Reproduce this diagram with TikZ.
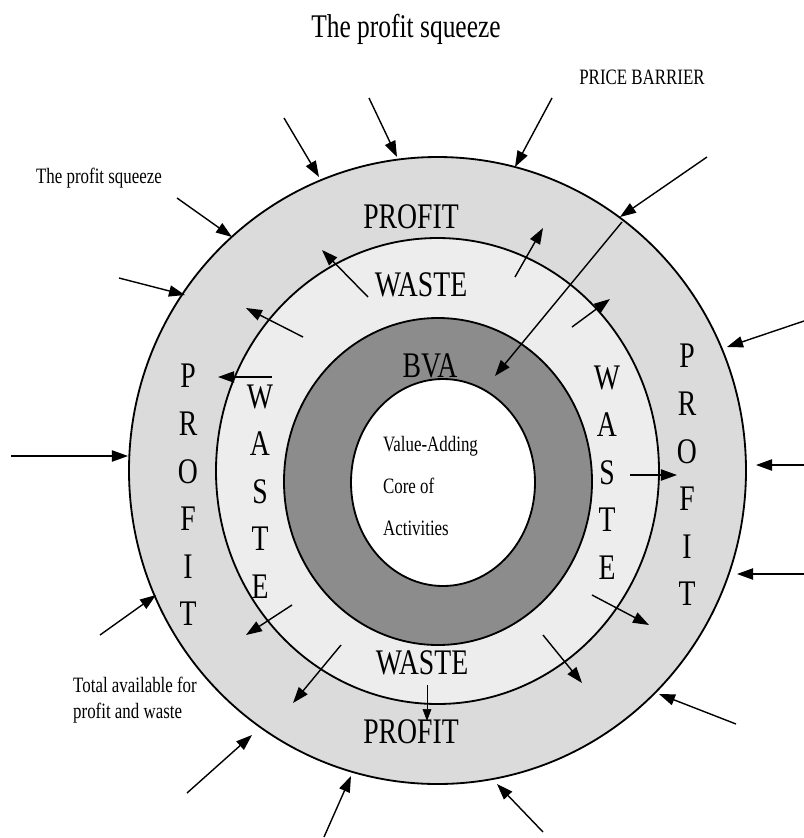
\documentclass[tikz,border=0pt]{standalone}
\usepackage{fontspec}
\setmainfont[FakeStretch=0.77]{Liberation Serif}
\usetikzlibrary{arrows.meta}

\definecolor{profitgray}{gray}{0.86}
\definecolor{wastegray}{gray}{0.93}
\definecolor{bvagray}{gray}{0.55}

\newcommand{\ringsize}{\fontsize{25.6}{33.8}\selectfont}
\newcommand{\notesize}{\fontsize{15.6}{18.5}\selectfont}
\newcommand{\headsize}{\fontsize{23.5}{28}\selectfont}

\tikzset{
  ring/.style={draw=black, line width=1.3pt},
  ringtext/.style={font=\ringsize, inner sep=0pt},
  note/.style={font=\notesize, inner sep=0pt},
  push/.style={line width=1pt, -{Triangle[length=4mm,width=2.8mm]}},
}

\begin{document}
\begin{tikzpicture}[x=0.025cm, y=-0.025cm]
\useasboundingbox (0,0) rectangle (804,838);

% rings, outside in
\draw[ring, fill=profitgray] (437.5,470.5) ellipse (308.5 and 313.5);
\draw[ring, fill=wastegray] (437.5,471) ellipse (221.5 and 233);
\draw[ring, fill=bvagray] (438,481.5) ellipse (154 and 163.5);
\draw[ring, fill=white] (443,482.5) ellipse (92 and 103.5);

% titles and notes
\node[font=\headsize, inner sep=0pt] (title) at (406,29) {The profit squeeze};
\node[note] (squeeze) at (99,178) {The profit squeeze};
\node[note] (barrier) at (642,77) {PRICE BARRIER};
\node[note, align=left] (total) at (135,700) {Total available for\\profit and waste};

% ring labels
\node[ringtext] (profit-top) at (411,217) {PROFIT};
\node[ringtext] (waste-top) at (421,285) {WASTE};
\node[ringtext] (waste-bot) at (422,663) {WASTE};
\node[ringtext] (profit-bot) at (411,732) {PROFIT};
\node[ringtext] (bva) at (430,366) {BVA};
\node[ringtext, align=center] (profit-left) at (188,495) {P\\R\\O\\F\\I\\T};
\node[ringtext, align=center] (profit-right) at (687,475) {P\\R\\O\\F\\I\\T};
\node[ringtext, align=center] (waste-left) at (260,491.5) {W\\A\\S\\T\\E};
\node[ringtext, align=center] (waste-right) at (607,472.5) {W\\A\\S\\T\\E};
\node[font=\fontsize{15.6}{29.9}\selectfont, inner sep=0pt, align=left] (core) at (430.5,486)
  {Value-Adding\\Core of\\Activities};

% pressure on the outer ring
\draw[push] (284,118) -- (319,177);
\draw[push] (369,98) -- (397,157);
\draw[push] (552,98) -- (515,167);
\draw[push] (707,157) -- (620,217);
\draw[push] (177,198) -- (232,237);
\draw[push] (119,278) -- (185,295);
\draw[push] (11,456) -- (128,456);
\draw[push] (804,321) -- (727,347);
\draw[push] (804,465) -- (756,465);
\draw[push] (804,574) -- (737,574);
\draw[push] (100,635) -- (156,595);
\draw[push] (187,793) -- (252,735);
\draw[push] (324,837) -- (351,776);
\draw[push] (543,832) -- (497,784);
\draw[push] (736,724) -- (659,694);

% price barrier reaching the BVA ring
\draw[push] (622,222) -- (495,376);

% waste pushing into profit
\draw[push] (368,297) -- (322,250);
\draw[push] (515,277) -- (543,228);
\draw[push] (303,337) -- (246,308);
\draw[push] (572,327) -- (610,299);
\draw[push] (272,377) -- (218,377);
\draw[push] (630,475) -- (677,475);
\draw[push] (292,605) -- (246,635);
\draw[push] (592,595) -- (649,625);
\draw[push] (341,645) -- (293,703);
\draw[push] (543,635) -- (582,683);
\draw[line width=0.5pt, -{Triangle[length=3mm,width=2.2mm]}] (427,685) -- (427,721);

\end{tikzpicture}
\end{document}
